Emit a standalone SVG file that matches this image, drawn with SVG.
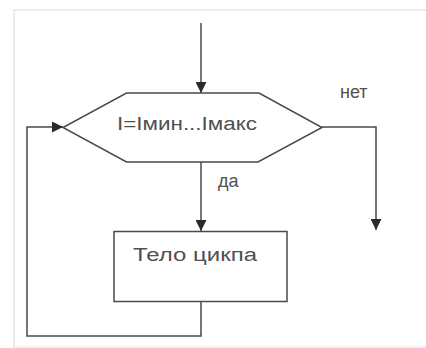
<svg xmlns="http://www.w3.org/2000/svg" width="426" height="348" viewBox="0 0 426 348">
<style>
.ln{fill:none;stroke:#4a4a4a;stroke-width:1.5}
.sh{fill:#fff;stroke:#4a4a4a;stroke-width:1.5}
.t{font-family:"Liberation Sans",Arial,sans-serif;fill:#505050;font-size:18px}
</style>
<defs>
<marker id="ah" viewBox="0 0 10 10" refX="10" refY="5" markerWidth="11" markerHeight="11" markerUnits="userSpaceOnUse" orient="auto">
<path d="M0,0 L10,5 L0,10 Z" fill="#2a2a2a"/>
</marker>
</defs>
<rect width="426" height="348" fill="#fff"/>
<path d="M14,348 V10 H426" fill="none" stroke="#ececec" stroke-width="2"/>
<path d="M14,347 H426" fill="none" stroke="#ececec" stroke-width="1.5"/>
<g id="connectors">
<path class="ln" d="M201,23 V93" marker-end="url(#ah)"/>
<path class="ln" d="M201,162 V231" marker-end="url(#ah)"/>
<path class="ln" d="M322,127 H376 V230" marker-end="url(#ah)"/>
<path class="ln" d="M201,302 V336 H27 V127 H63" marker-end="url(#ah)"/>
</g>
<g id="decision">
<polygon class="sh" points="126.5,93 259,93 322,127.5 258,162 126.5,162 63,127.5"/>
<text class="t" x="117" y="130" font-size="19" textLength="140" lengthAdjust="spacingAndGlyphs">I=Iмин...Iмакс</text>
</g>
<g id="body">
<rect class="sh" x="114" y="231.5" width="173" height="70"/>
<text class="t" x="133" y="261" font-size="19" textLength="124" lengthAdjust="spacingAndGlyphs">Тело цикпа</text>
</g>
<g id="labels">
<text class="t" x="340" y="98" font-size="21">нет</text>
<text class="t" x="218" y="187" font-size="21">да</text>
</g>
</svg>
